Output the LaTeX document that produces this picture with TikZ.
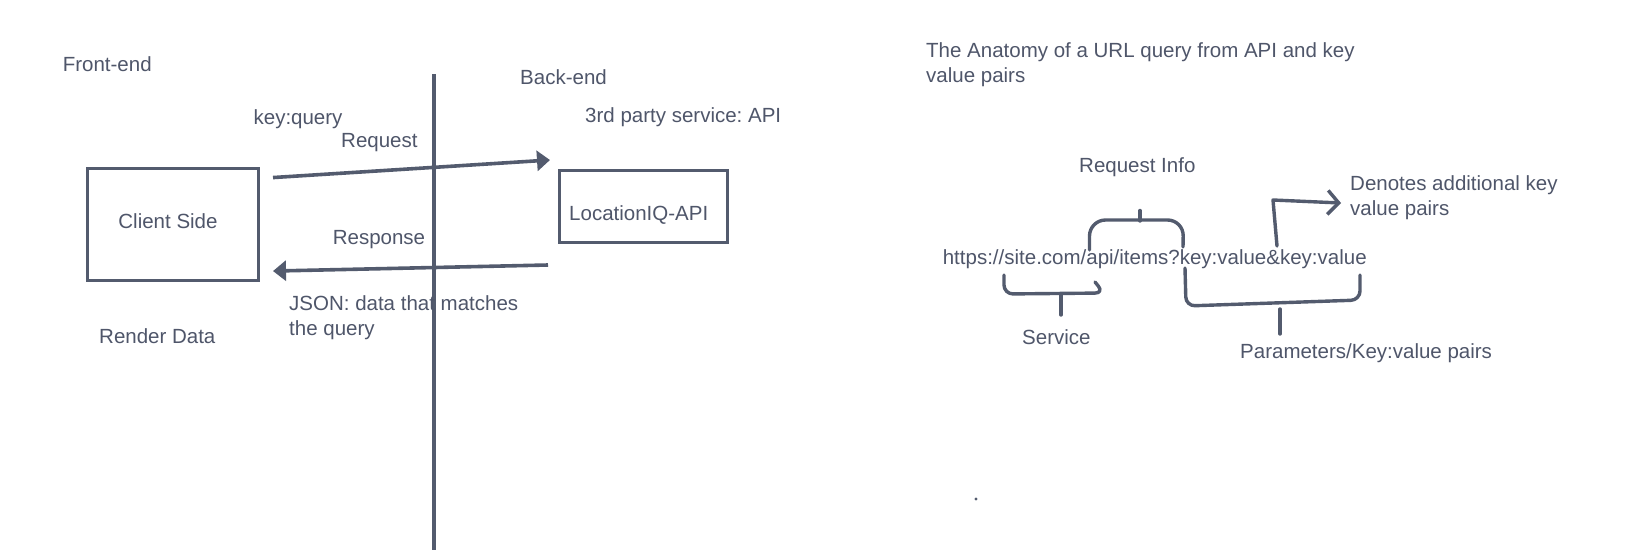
\documentclass[tikz,border=0pt]{standalone}
\usepackage{fontspec}
\setmainfont{Liberation Sans}
\usetikzlibrary{arrows.meta,calc}
\definecolor{ink}{HTML}{535B6E}
\definecolor{txt}{HTML}{4F566A}
\frenchspacing
\begin{document}
\begin{tikzpicture}[x=1pt,y=-1pt,
  lbl/.style={font=\fontsize{20.5}{25}\selectfont, text=txt, inner sep=0pt, anchor=base west},
  mlbl/.style={lbl, anchor=west, align=left},
  ctext/.style={lbl, anchor=center},
  boxed/.style={draw=ink, line width=3pt, inner sep=0pt, outer sep=0pt},
  flow/.style={draw=ink, line width=3.6pt, -{Triangle[length=13pt,width=20pt]}},
  brace/.style={draw=ink, line width=3.4pt, rounded corners=9pt, line cap=round, line join=round},
  stem/.style={draw=ink, line width=3.4pt, line cap=round},
  divider/.style={draw=ink, line width=3.2pt}]
\useasboundingbox[fill=white] (0,0) rectangle (1635,550);

% divider
\coordinate (divtop) at (434,74);
\coordinate (divbot) at (434,550);
\draw[divider] (divtop) -- (divbot);

% boxes
\node[boxed, minimum width=171pt, minimum height=111.5pt] (client) at (172.5,224.3) {};
\node[ctext] (clienttxt) at ($(client.center)+(-4.5,-3)$) {Client Side};
\node[boxed, minimum width=168pt, minimum height=72pt] (loc) at (643,206) {};
\node[lbl] (loctxt) at (569,220) {LocationIQ-API};

% arrows
\draw[flow] ($(client.north east)+(15,9)$) -- ($(loc.north west)+(-9,-10)$);
\draw[flow] ($(loc.south west)+(-11,23)$) -- ($(client.south east)+(15,-9)$);

% left labels
\node[lbl] (front) at (62.6,71.5) {Front-end};
\node[lbl] (back) at (520,84.2) {Back-end};
\node[lbl] (keyq) at (253.4,124.5) {key:query};
\node[lbl] (req) at (341,147.5) {Request};
\node[lbl] (third) at (585,122.5) {3rd party service: API};
\node[lbl] (resp) at (332.6,244.5) {Response};
\node[mlbl] (json) at (289,317.7) {JSON: data that matches\\the query};
\node[lbl] (render) at (99,343.5) {Render Data};

% right side
\node[mlbl] (title) at (926,64.7) {The Anatomy of a URL query from API and key\\value pairs};
\node[lbl] (reqinfo) at (1079,172.5) {Request Info};
\node[mlbl] (denotes) at (1350,197.2) {Denotes additional key\\value pairs};
\node[lbl] (url) at (942.6,264) {https://site.com/api/items?key:value\&key:value};
\node[lbl] (service) at (1022,344.5) {Service};
\node[lbl] (params) at (1240,358.5) {Parameters/Key:value pairs};

% brackets
\draw[brace] (1004,275) -- (1004,294) -- (1104,293) [sharp corners] -- (1095,282);
\draw[stem] (1061,295) -- (1061,315);
\draw[brace, rounded corners=16pt] (1089.5,250) -- (1089.5,220) -- (1183.5,220) [rounded corners=8pt] -- (1183,247);
\draw[stem] (1140,210.5) -- (1140,221);
\draw[brace] (1185,268) -- (1186,306) -- (1360,300) -- (1360,275);
\draw[stem] (1280,309) -- (1280,334);
\draw[draw=ink, line width=3.4pt, line cap=round, line join=round, -{Straight Barb[length=11pt,width=24pt]}]
  (1277,246) -- (1273,200) -- (1341,203);

% dot
\fill[ink] (976,499) circle (1.7pt);
\end{tikzpicture}
\end{document}
